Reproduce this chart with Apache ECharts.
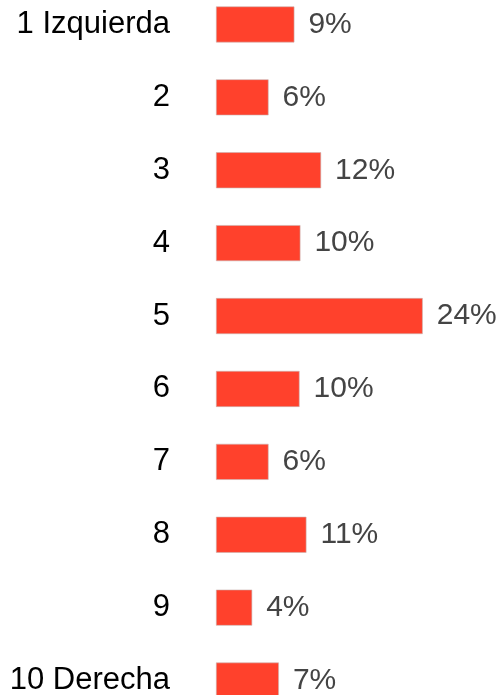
<!DOCTYPE html>
<html>
<head>
<meta charset="utf-8">
<script src="https://cdn.jsdelivr.net/npm/echarts@6/dist/echarts.min.js"></script>
<style>
html,body{margin:0;padding:0;background:#fff;overflow:hidden;width:504px;height:695px;}
#chart{position:absolute;left:0;top:-12px;width:504px;height:729px;}
</style>
</head>
<body>
<div id="chart"></div>
<script>
const categories = ['1 Izquierda','2','3','4','5','6','7','8','9','10 Derecha'];
const percentValues = [9.1, 6.1, 12.2, 9.8, 24.0, 9.7, 6.1, 10.5, 4.2, 7.3];

const chart = echarts.init(document.getElementById('chart'), null, {renderer:'canvas'});
chart.setOption({
  animation: false,
  backgroundColor: '#ffffff',
  grid: { left: 216, right: 29.6, top: 0, bottom: 0, containLabel: false },
  xAxis: {
    type: 'value', min: 0, max: 30,
    show: false
  },
  yAxis: {
    type: 'category',
    data: categories,
    inverse: true,
    axisLine: { show: false },
    axisTick: { show: false },
    splitLine: { show: false },
    axisLabel: {
      margin: 46,
      color: '#000000',
      fontFamily: 'Liberation Sans, Arial, sans-serif',
      fontSize: 31
    }
  },
  series: [{
    type: 'bar',
    data: percentValues,
    barWidth: 36,
    itemStyle: { color: '#ff412c', borderColor: '#c9b5b2', borderWidth: 0.6 },
    label: {
      show: true,
      position: 'right',
      distance: 14,
      color: '#444444',
      fontFamily: 'Liberation Sans, Arial, sans-serif',
      fontSize: 30
    , formatter: p => Math.round(p.value) + '%'
    }
  }]
});
</script>
</body>
</html>
